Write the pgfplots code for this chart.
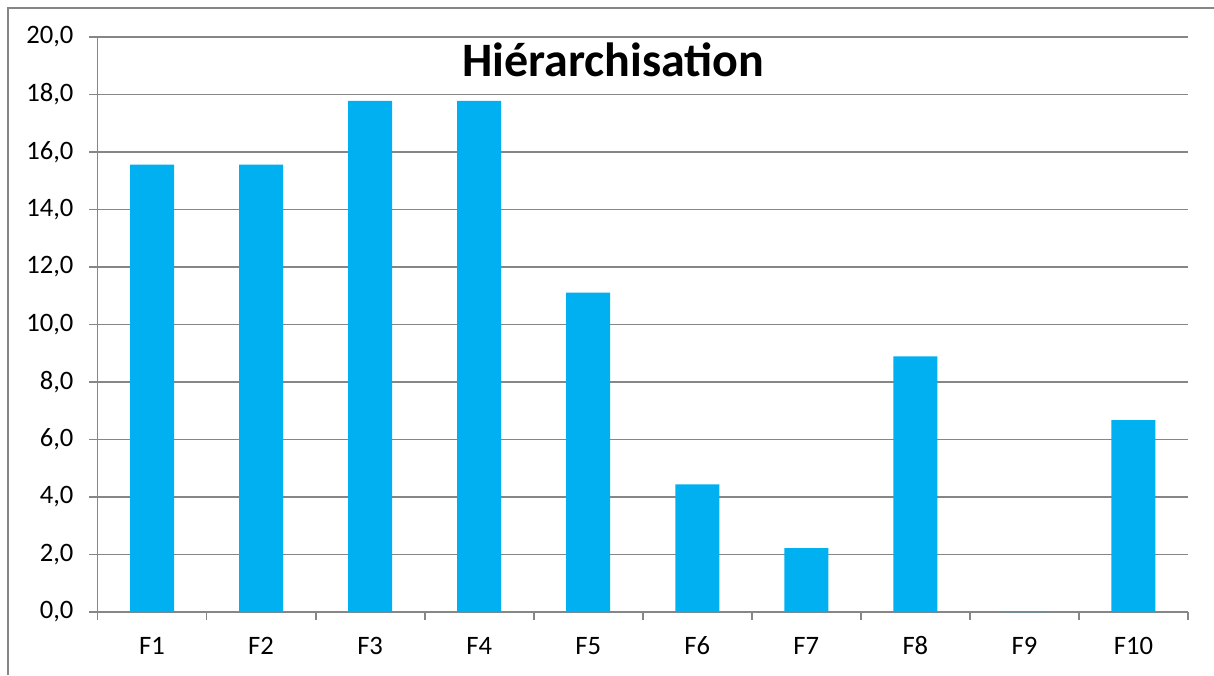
\documentclass[border=0pt]{standalone}
\usepackage{fontspec}
\setmainfont{Carlito}
\usepackage{pgfplots}
\pgfplotsset{compat=1.18}
\definecolor{barblue}{RGB}{0,176,240}
\definecolor{axgray}{RGB}{134,134,134}
\begin{document}
\begin{tikzpicture}
\path[use as bounding box] (0,0) rectangle (607pt,337.5pt);
\draw[axgray, line width=0.8pt] (4pt,0) -- (4pt,333.5pt) -- (608pt,333.5pt);
\begin{axis}[
  at={(48.75pt,31.5pt)}, anchor=south west,
  scale only axis, width=545.25pt, height=287.5pt,
  xmin=0.5, xmax=10.5, ymin=0, ymax=20,
  ytick={0,2,...,20},
  xtick={1,...,10},
  xticklabels={F1,F2,F3,F4,F5,F6,F7,F8,F9,F10},
  minor xtick={0.5,1.5,...,10.5},
  major x tick style={draw=none},
  axis x line*=bottom, axis y line*=left,
  axis line style={-, axgray, line width=0.9pt},
  tick style={axgray, line width=0.9pt},
  tick align=outside,
  major tick length=4pt, minor tick length=4pt,
  ymajorgrids, grid style={axgray, line width=0.9pt},
  /pgf/number format/assume math mode=true,
  yticklabel={\pgfmathprintnumber[fixed, fixed zerofill, precision=1, use comma]{\tick}},
  ticklabel style={font=\fontsize{13.3pt}{15pt}\selectfont, text=black},
  yticklabel style={xshift=-4.5pt},
  xticklabel style={anchor=base, yshift=-17pt},
  ybar, bar width=22pt, bar shift=0pt,
  clip=false,
]
\addplot[fill=barblue, draw=none] coordinates {
  (1,15.56) (2,15.56) (3,17.78) (4,17.78) (5,11.11)
  (6,4.44) (7,2.22) (8,8.89) (9,0) (10,6.67)
};
\node[font=\fontsize{24pt}{28pt}\selectfont\bfseries] at (axis cs:5.23,19.2) {Hiérarchisation};
\end{axis}
\end{tikzpicture}
\end{document}
